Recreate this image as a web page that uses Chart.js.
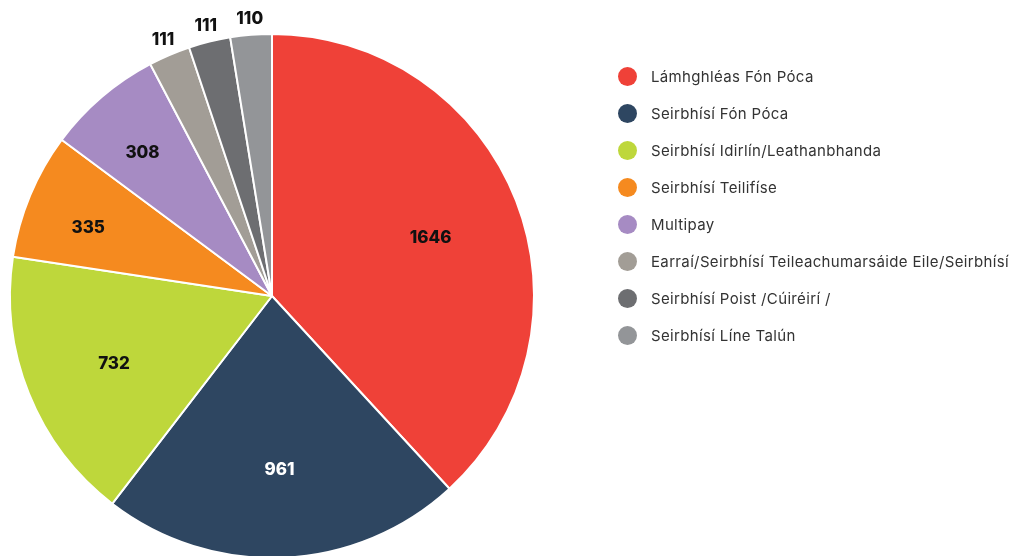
<!DOCTYPE html>
<html>
<head>
<meta charset="utf-8">
<script src="https://cdn.jsdelivr.net/npm/chart.js@4"></script>
<style>
  html, body { margin: 0; padding: 0; background: #fff; overflow: hidden; }
  #wrap { position: relative; width: 1011px; height: 556px; }
  #box { position: absolute; left: 0; top: 0; width: 1011px; height: 600px; }
  #legend { position: absolute; left: 618px; top: 67px; font-family: "Inter", sans-serif; font-size: 15px; letter-spacing: 0.35px; color: #333; }
  .item { height: 37px; display: flex; align-items: flex-start; white-space: nowrap; }
  .dot { width: 19px; height: 19px; border-radius: 50%; margin-right: 14px; margin-top: 0px; }
</style>
</head>
<body>
<div id="wrap">
  <div id="box"><canvas id="pie"></canvas></div>
  <div id="legend"></div>
</div>
<script>
/*===== DATA =====*/
const labels = [
  "Lámhghléas Fón Póca",
  "Seirbhísí Fón Póca",
  "Seirbhísí Idirlín/Leathanbhanda",
  "Seirbhísí Teilifíse",
  "Multipay",
  "Earraí/Seirbhísí Teileachumarsáide Eile/Seirbhísí",
  "Seirbhísí Poist /Cúiréirí /",
  "Seirbhísí Líne Talún"
];
const values = [1646, 961, 732, 335, 308, 111, 111, 110];
const colors = ["#EF4138", "#2E4661", "#BED73B", "#F58A1F", "#A68BC3", "#A29D96", "#6D6E71", "#939598"];
const labelColors = ["#111", "#fff", "#111", "#111", "#111", "#111", "#111", "#111"];

/*===== LABELS ON SLICES =====*/
const sliceLabels = {
  id: "sliceLabels",
  afterDatasetsDraw(chart) {
    const ctx = chart.ctx;
    const meta = chart.getDatasetMeta(0);
    ctx.save();
    ctx.font = "800 17px Inter, sans-serif";
    ctx.textAlign = "center";
    ctx.textBaseline = "middle";
    meta.data.forEach((arc, i) => {
      const p = arc.getProps(["x", "y", "startAngle", "endAngle", "outerRadius"], true);
      const span = p.endAngle - p.startAngle;
      const mid = (p.startAngle + p.endAngle) / 2;
      let r, dy = 0;
      if (span < 0.2) r = p.outerRadius + 16;
      else if (span < 0.7) { r = p.outerRadius * 0.76; dy = 8; }
      else { r = p.outerRadius * 0.65; dy = 4; }
      ctx.fillStyle = span < 0.2 ? "#111" : labelColors[i];
      ctx.fillText(values[i], p.x + Math.cos(mid) * r, p.y + Math.sin(mid) * r + dy);
    });
    ctx.restore();
  }
};

new Chart(document.getElementById("pie"), {
  type: "pie",
  data: {
    labels: labels,
    datasets: [{
      data: values,
      backgroundColor: colors,
      borderColor: "#fff",
      borderWidth: 2
    }]
  },
  options: {
    responsive: true,
    maintainAspectRatio: false,
    animation: false,
    layout: { padding: { left: 9, right: 476, top: 33, bottom: 41 } },
    plugins: {
      legend: { display: false },
      tooltip: { enabled: false }
    }
  },
  plugins: [sliceLabels]
});

/*===== HTML LEGEND =====*/
const legend = document.getElementById("legend");
labels.forEach((name, i) => {
  const item = document.createElement("div");
  item.className = "item";
  item.innerHTML = `<span class="dot" style="background:${colors[i]}"></span><span>${name}</span>`;
  legend.appendChild(item);
});
</script>
</body>
</html>
